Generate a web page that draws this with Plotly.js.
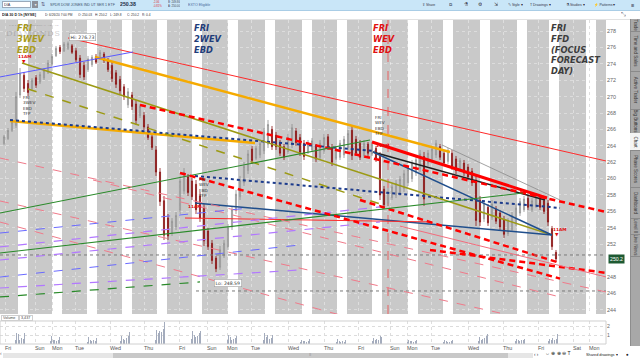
<!DOCTYPE html>
<html><head><meta charset="utf-8">
<script src="https://cdn.plot.ly/plotly-3.0.1.min.js"></script>
<style>
body{margin:0;width:640px;height:360px;overflow:hidden;font-family:'Liberation Sans',Arial,sans-serif;background:#fff;position:relative}
#chart{position:absolute;left:0;top:0;width:640px;height:360px}
.bx{position:absolute;z-index:10}
.t{position:absolute;white-space:nowrap;line-height:1;color:#334;z-index:12;transform-origin:0 0;transform:scale(0.5)}
.tab{position:absolute;left:630px;width:10px;border-bottom:1px solid #8a8a8a;z-index:11;overflow:hidden}
.tab span{position:absolute;left:50%;top:50%;transform:translate(-50%,-50%) rotate(90deg) scale(0.5);font-size:9px;color:#333;white-space:nowrap}
</style></head><body>
<div id="chart"></div>

<!-- toolbar -->
<div class="bx" style="left:0;top:0;width:640px;height:10px;background:#c9e6f8;border-bottom:1px solid #a9cde6"></div>
<div class="bx" style="left:2px;top:1px;width:29px;height:7px;background:#fff;border:1px solid #9ab;box-sizing:border-box"></div>
<div class="t" style="left:4px;top:3px;font-size:7.6px">DIA</div>
<div class="bx" style="left:32px;top:1px;width:6px;height:7px;background:#8a8f99"></div>
<div class="t" style="left:33.5px;top:3px;font-size:6.5px;color:#fff">▼</div>
<div class="t" style="left:41px;top:1.5px;font-size:10px;color:#557">⇅</div>
<div class="t" style="left:50px;top:3px;font-size:7.2px;color:#3a4f6a">SPDR DOW JONES IND UT SER 1 ETF</div>
<div class="t" style="left:120px;top:2px;font-size:10.4px;font-weight:bold;color:#1d2d44">250.38</div>
<div class="t" style="left:153px;top:1.2px;font-size:5.6px;color:#d33">-2.06</div>
<div class="t" style="left:153px;top:5.2px;font-size:5.6px;color:#d33">-0.81%</div>
<div class="t" style="left:168px;top:1.2px;font-size:5.6px;color:#445">B: 249.86</div>
<div class="t" style="left:168px;top:5.2px;font-size:5.6px;color:#445">A: 250.00</div>
<div class="t" style="left:188px;top:3px;font-size:7.2px;color:#4a6a9a">EXTO Eligible</div>
<div class="t" style="left:422px;top:3px;font-size:7px;color:#334">⇪ Share</div>
<div class="t" style="left:449px;top:2px;font-size:9px;color:#334">⧉</div>
<div class="t" style="left:464px;top:2px;font-size:9px;color:#334">⚗</div>
<div class="t" style="left:478px;top:2px;font-size:9px;color:#334">⚙</div>
<div class="t" style="left:494px;top:2px;font-size:9px;color:#334">⇲</div>
<div class="t" style="left:508px;top:3px;font-size:7px;color:#334">✎ Style ▾</div>
<div class="t" style="left:530px;top:3px;font-size:7px;color:#334">T Drawings ▾</div>
<div class="t" style="left:566px;top:3px;font-size:7px;color:#334">⚗ Studies ▾</div>
<div class="t" style="left:594px;top:3px;font-size:7px;color:#334">⚡ Patterns ▾</div>
<div class="t" style="left:631px;top:1.5px;font-size:11px;color:#334">≡</div>

<!-- header row -->
<div class="bx" style="left:0;top:11px;width:630px;height:8px;background:#fff;border-bottom:1px solid #e2e2e2"></div>
<div class="t" style="left:2px;top:13px;font-size:7.4px;font-weight:bold;color:#222">DIA 30 D 1h [NYSE]</div>
<div class="t" style="left:45px;top:13px;font-size:6.4px;color:#333">D: 6/26/20 7:00 PM</div>
<div class="t" style="left:78px;top:13px;font-size:6.4px;color:#333">O: 250.03</div>
<div class="t" style="left:95px;top:13px;font-size:6.4px;color:#333">H: 250.2</div>
<div class="t" style="left:110px;top:13px;font-size:6.4px;color:#333">L: 249.8</div>
<div class="t" style="left:127px;top:13px;font-size:6.4px;color:#333">C: 250.2</div>
<div class="t" style="left:142px;top:13px;font-size:6.4px;color:#333">R: 0.4</div>
<div class="t" style="left:621px;top:11px;font-size:12px;color:#556">⤡</div>

<!-- watermark -->
<div class="t" style="left:9px;top:24px;font-size:4.6px;color:rgba(90,90,90,0.45);letter-spacing:0.3px">THE DOW JONES INDUSTRIAL AVERAGE</div>
<div class="t" style="left:6px;top:29px;font-size:16px;font-family:'DejaVu Serif',serif;color:rgba(110,110,110,0.35);letter-spacing:1.4px">DIAMONDS</div>

<!-- right tabs -->
<div class="bx" style="left:630px;top:19px;width:10px;height:327px;background:#a8a8a8;border-left:1px solid #8d8d8d"></div>
<div class="tab" style="top:19px;height:12px"><span>Trade</span></div>
<div class="tab" style="top:31px;height:40px"><span>Time and Sales</span></div>
<div class="tab" style="top:71px;height:38px"><span>Active Trader</span></div>
<div class="tab" style="top:109px;height:24px"><span>Big Buttons</span></div>
<div class="tab" style="top:133px;height:17px;background:#f4f4f4"><span>Chart</span></div>
<div class="tab" style="top:150px;height:37px"><span>Phase Scores</span></div>
<div class="tab" style="top:187px;height:31px"><span>Dashboard</span></div>
<div class="tab" style="top:218px;height:16px"><span>Level II</span></div>
<div class="tab" style="top:234px;height:22px"><span>Live News</span></div>

<!-- volume label -->
<div class="bx" style="left:1px;top:315px;width:18px;height:6px;border:1px solid #cfcfcf;background:#fff;box-sizing:border-box"></div>
<div class="bx" style="left:19px;top:315px;width:14px;height:6px;border:1px solid #cfcfcf;background:#fff;box-sizing:border-box"></div>
<div class="t" style="left:3px;top:316.3px;font-size:7.4px;color:#444">Volume</div>
<div class="t" style="left:21px;top:316.3px;font-size:7.4px;color:#444">3,437</div>

<!-- scrollbar -->
<div class="t" style="left:0px;top:351px;font-size:10px;color:#666">‹</div>
<div class="bx" style="left:3px;top:353px;width:530px;height:5px;background:#e6e6e6"></div>
<div class="bx" style="left:113px;top:353px;width:395px;height:5px;background:#c8c8c8"></div>
<div class="t" style="left:309px;top:353px;font-size:8px;color:#777">≡</div>
<div class="t" style="left:534px;top:351.5px;font-size:9px;color:#333">‹ ›</div>
<div class="t" style="left:545px;top:351px;font-size:10px;color:#222">⇔ ⊕ ⊕ ⊖ T</div>
<div class="t" style="left:586px;top:353px;font-size:7.6px;color:#222">Shared drawings ▾</div>
<div class="t" style="left:626px;top:351.5px;font-size:9px;color:#222">●</div>

<script>
// ---------- DATA ----------
const candX = [2,4,6,8,10,12,14,16,18,20,22,24,26,28,30,32,34,36,38,40,42,44,46,48,50,52,54,56,58,60,62,64,66,68,70,72,74,76,78,80,82,84,86,88,90,92,94,96,98,100,102,104,106,108,110,112,114,116,118,120,122,124,126,128,130,132,134,136,138,140,142,144,146,148,150,152,154,156,158,160,162,164,166,168,170,172,174,176,178,180,182,184,186,188,190,192,194,196,198,200,202,204,206,208,210,212,214,216,218,220,222,224,226,228,230,232,234,236,238,240,242,244,246,248,250,252,254,256,258,260,262,264,266,268,270,272,274,276,278];
const candO = [264.3,264.9,265.9,266.5,270.2,272.6,271.6,271.0,272.3,271.8,
272.3,273.0,274.0,275.0,276.0,275.6,275.9,276.2,275.6,274.7,
273.8,273.3,273.9,274.9,274.7,275.2,274.4,273.8,272.9,272.1,
271.2,269.0,270.2,269.1,267.7,267.7,266.3,265.1,263.5,260.8,
257.3,255.2,253.3,254.1,256.2,258.5,260.2,259.7,259.3,257.9,
256.4,253.6,252.1,250.3,249.2,250.6,251.7,254.1,256.1,257.8,
259.5,261.0,263.6,262.5,262.9,263.4,264.2,266.0,265.3,264.4,
263.9,263.3,264.1,265.8,265.0,264.3,263.3,263.5,263.9,262.6,
263.4,265.1,263.8,262.5,262.6,262.9,263.8,265.9,264.8,264.3,
262.8,264.2,263.0,263.7,262.7,258.7,257.0,257.7,258.0,258.3,
258.8,259.5,260.0,260.7,261.2,262.7,261.9,262.4,262.9,263.9,
263.1,262.1,263.1,262.4,261.1,261.9,261.4,260.9,259.8,257.4,
255.1,256.5,255.3,256.3,255.8,255.0,253.3,253.8,254.6,255.8,
256.2,257.6,256.2,256.7,257.6,257.3,257.0,253.9,251.0];
const candH = [265.32,266.17,267.15,270.57,273.49,273.01,272.03,272.27,272.64,273.01,
273.49,274.47,275.20,276.18,276.30,276.67,276.73,276.42,275.93,275.08,
274.23,274.96,275.08,275.20,275.69,275.45,274.71,274.23,273.25,272.52,
271.54,271.05,270.57,269.59,269.10,268.13,266.66,265.44,263.98,261.29,
257.88,255.68,255.19,255.93,260.32,261.29,260.56,260.07,259.83,258.37,
256.90,253.97,252.51,250.56,251.78,252.51,254.46,256.66,258.61,260.32,
262.03,263.49,263.98,263.98,264.71,266.17,267.15,266.42,265.69,264.71,
264.22,265.44,266.66,266.17,265.44,264.71,264.71,264.95,264.22,264.71,
265.44,265.44,264.22,263.98,264.71,265.20,265.93,266.42,265.20,264.71,
264.71,264.47,264.47,263.98,263.25,259.10,258.85,259.34,259.83,260.32,
261.05,261.54,262.27,262.76,263.49,263.25,263.49,263.98,264.71,264.22,
263.49,263.73,263.49,262.76,262.51,262.27,261.78,261.29,260.32,257.88,
257.39,256.90,257.39,256.66,256.17,255.44,255.19,255.93,256.90,257.63,
257.88,257.88,257.63,258.12,257.88,257.63,257.39,254.22,251.29];
const candL = [264.10,264.71,265.69,266.17,269.83,270.57,270.08,270.81,271.05,271.54,
272.03,272.76,273.74,274.84,275.20,275.45,275.69,275.20,274.23,272.27,
272.03,273.01,273.62,273.98,274.47,274.10,273.01,271.79,271.05,270.32,
269.59,268.61,268.37,266.54,267.39,265.93,264.71,263.49,260.32,256.66,
252.51,252.51,253.00,253.73,255.68,258.12,257.88,257.39,255.68,254.71,
251.78,251.29,249.58,248.59,248.85,250.32,251.29,253.73,255.68,257.39,
259.10,260.56,261.78,262.27,262.51,263.00,263.73,263.49,263.49,262.76,
262.27,263.00,263.73,263.98,262.76,262.27,263.00,263.25,262.03,262.27,
263.00,263.49,261.54,262.27,262.27,262.51,263.49,262.27,262.76,262.27,
262.51,262.76,262.76,262.03,257.39,256.42,256.66,257.39,257.63,257.88,
258.37,259.10,259.59,260.32,260.81,256.66,261.54,262.03,262.51,262.27,
261.54,261.78,261.05,260.56,260.81,260.32,259.83,259.10,254.22,254.22,
254.71,254.22,254.95,254.46,253.73,252.76,253.00,253.49,254.22,255.44,
255.93,256.17,255.93,256.42,256.17,255.68,254.22,251.29,249.83];
const candC = [265.1,265.9,266.9,270.0,272.8,271.0,270.5,272.0,271.4,272.7,
273.2,274.1,274.9,275.9,275.5,276.4,276.5,275.4,274.5,272.7,
272.4,274.6,274.8,274.2,275.4,274.4,273.3,272.2,271.5,270.7,
270.0,270.6,268.8,267.1,268.8,266.3,265.0,263.8,260.8,257.2,
253.1,253.0,254.8,255.5,259.7,260.8,258.3,257.8,256.2,255.2,
252.4,251.7,250.0,249.0,251.3,252.1,254.0,256.2,258.1,259.8,
261.5,263.0,262.2,263.7,264.3,265.7,266.6,263.9,263.9,263.1,
262.6,265.0,266.2,264.4,263.2,262.7,264.4,264.6,262.4,264.3,
265.0,263.8,262.0,263.7,264.3,264.8,265.5,262.8,263.1,262.6,
264.3,263.1,264.2,262.4,258.0,256.8,258.4,259.0,259.4,259.9,
260.6,261.1,261.8,262.3,263.0,257.5,263.1,263.6,264.3,262.6,
261.9,263.4,261.5,261.0,262.2,260.7,260.2,259.5,254.9,254.7,
256.9,254.6,256.9,254.8,254.1,253.2,254.8,255.5,256.4,257.2,
257.5,256.5,257.3,257.8,256.5,256.0,254.7,251.7,250.2];

// regular-session (white) bands: start hour index of each session
const sessionStart = [9,26,43.5,61,78.5,96,114,132.5,151,168.5,186,204,221.5,240,258.5,274.5,293];
const sessionLen = 5;

// volume (millions) per session, hourly
const volStart = [7.5,25,43.5,60,77.5,95.5,113.5,131.5,150,168,186,203.5,221.5,239,257.5,274];
const volBySession = [
 [0.4,1.2,1.1,0.5,0.7,0.6,1.2],
 [0.3,0.9,0.5,0.4,0.3,0.5,0.8],
 [0.2,0.8,0.4,0.3,0.4,0.3,0.7],
 [0.3,0.9,0.6,0.5,0.7,0.9,1.3],
 [0.5,1.6,1.2,1.5,1.3,1.7,2.45],
 [0.6,1.5,1.0,0.8,0.9,1.2,1.4],
 [0.4,1.0,0.8,0.5,0.6,0.7,0.9],
 [0.5,1.2,0.8,1.0,0.6,0.7,1.0],
 [0.2,0.5,0.3,0.3,0.2,0.3,0.6],
 [0.2,0.6,0.3,0.2,0.3,0.2,0.4],
 [0.3,0.7,0.5,0.6,0.4,0.9,0.8],
 [0.2,0.5,0.3,0.3,0.2,0.3,0.4],
 [0.2,0.45,0.3,0.25,0.2,0.3,0.4],
 [0.3,0.8,0.5,0.6,0.7,0.9,1.1],
 [0.3,0.6,0.4,0.3,0.4,0.5,0.6],
 [0.3,0.6,0.4,0.7,0.5,0.6,1.1]
];

// day tick labels
const dayTickX = [2.5,17.5,26,37.5,55,72,89.5,103.5,113.5,125.5,144,162,179,195,203.5,215.5,234,251.5,269,286.5,294.5];
const dayTickText = ['Fri','Sun','Mon','Tue','Wed','Thu','Fri','Sun','Mon','Tue','Wed','Thu','Fri','Sun','Mon','Tue','Wed','Thu','Fri','Sat','Mon'];
const priceTicks = [244,246,248,252,254,256,258,260,262,264,266,268,270,272,274,276,278];

// hand-drawn trend lines: start/end (hour index, price) and kind
const lineX0 = [34,47.5,5,5,97.5,11,14,186,186.5,186.5,97.5,92.5,180,70,0,0,0,221,0,0,98,0,0,46.5,0,0,0,0,0,0,90,215,200];
const lineX1 = [303,225,127.5,187.5,280,276,190,273.5,272.5,276,276,216,280,303,185,261.5,66.5,280,100,303,303,250,170,280,303,190,190,150,125,150,280,303,303];
const lineV0 = [277.16,274.84,267.03,267.16,260.32,274.11,270.93,264.47,263.25,263.25,257.02,255.19,257.39,268.98,255.80,250.92,272.40,264.10,245.56,250.68,246.29,257.27,254.70,259.83,262.51,251.66,250.07,246.65,253.36,247.99,260.69,251.30,254.20];
const lineV1 = [262.15,263.25,264.35,263.37,256.42,253.12,256.91,257.63,257.39,253.12,253.12,254.71,249.70,255.93,264.71,258.24,275.45,257.39,247.39,250.68,246.29,243.60,243.36,245.56,246.17,256.54,254.71,248.85,256.42,251.90,247.80,248.50,248.00];
const lineKind = ['red','orange','orange','navydot','navydot','olive','olivedash','redthick','black','navy','navy','red','reddash','reddash','green','green','blue','gray','greendash','graydot','graydot','pinkdash','pinkdash','pinkdash','pinkdash','purpledash','purpledash','purpledash','bluedash','bluedash','reddash','reddash','pink'];

// ---------- STYLES ----------
const lineStyles = {
  red:{color:'#ff2a2a',width:1},
  pink:{color:'#f26d7d',width:1},
  orange:{color:'#f5aa00',width:2.5},
  navydot:{color:'#1b3a8c',width:2,dash:'dot'},
  olive:{color:'#9c9a14',width:1.5},
  olivedash:{color:'#9c9a14',width:1.5,dash:'dash'},
  redthick:{color:'#ff0000',width:3},
  black:{color:'#1e1e1e',width:1.5},
  navy:{color:'#1f4e8c',width:1.5},
  reddash:{color:'#ff0000',width:2.5,dash:'6px,4px'},
  green:{color:'#2a8a2a',width:1.2},
  blue:{color:'#5a5aff',width:1},
  gray:{color:'#8a8a8a',width:0.8},
  greendash:{color:'#2a8a2a',width:1.2,dash:'dash'},
  graydot:{color:'#7a7a7a',width:1,dash:'dot'},
  pinkdash:{color:'#f07a8a',width:1,dash:'dash'},
  purpledash:{color:'#b278ff',width:1.2,dash:'dash'},
  bluedash:{color:'#6a6aff',width:1,dash:'dash'}
};

const traces = [];
for (let i=0;i<lineX0.length;i++){
  traces.push({type:'scatter',mode:'lines',x:[lineX0[i],lineX1[i]],y:[lineV0[i],lineV1[i]],
    xaxis:'x',yaxis:'y',line:lineStyles[lineKind[i]],hoverinfo:'skip'});
}
traces.push({type:'candlestick',x:candX,open:candO,high:candH,low:candL,close:candC,xaxis:'x',yaxis:'y',
  whiskerwidth:0,
  increasing:{line:{color:'#8d8d8d',width:0.8},fillcolor:'#ececec'},
  decreasing:{line:{color:'#8c1414',width:0.8},fillcolor:'#8c1414'},hoverinfo:'skip'});

const volX=[], volY=[];
volBySession.forEach((arr,s)=>arr.forEach((v,j)=>{volX.push(volStart[s]+j*0.8);volY.push(v);}));
traces.push({type:'bar',x:volX,y:volY,xaxis:'x',yaxis:'y2',width:0.5,marker:{color:'#a4acbd'},hoverinfo:'skip'});

const shapes = [
  {type:'rect',xref:'paper',yref:'y domain',x0:0,x1:1,y0:0,y1:1,fillcolor:'#c9c9c9',line:{width:0},layer:'below'}
];
sessionStart.forEach(s=>shapes.push({type:'rect',xref:'x',yref:'y domain',x0:s,x1:s+sessionLen,y0:0,y1:1,fillcolor:'#ffffff',line:{width:0},layer:'below'}));
shapes.push({type:'line',xref:'x',yref:'y domain',x0:194,x1:194,y0:0,y1:1,line:{color:'#e86060',width:1,dash:'dash'},layer:'below'});
shapes.push({type:'rect',xref:'paper',yref:'y2 domain',x0:0,x1:1,y0:0,y1:1,line:{color:'#d0d0d0',width:1},layer:'above'});

function lab(x,y,text,size,color,extra){
  return Object.assign({xref:'x',yref:'y',x:x,y:y,text:text,showarrow:false,xanchor:'left',yanchor:'top',
    font:{size:size,color:color,family:'DejaVu Sans, Verdana, sans-serif'},align:'left'},extra||{});
}
const annotations = [
  lab(7.5,279.2,'<i><b>FRI<br>3WEV<br>EBD</b></i>',8.3,'#a99b1e'),
  lab(96,279.2,'<i><b>FRI<br>2WEV<br>EBD</b></i>',8.3,'#1f3d7a'),
  lab(185.5,279.2,'<i><b>FRI<br>WEV<br>EBD</b></i>',8.3,'#e01010'),
  lab(274.5,279.2,'<i><b>FRI<br>FFD<br>(FOCUS<br>FORECAST<br>DAY)</b></i>',8.3,'#3c3c3c'),
  lab(8,275.4,'<b>11AM</b>',4.3,'#e01010'),
  lab(10,274.8,'▼',4.5,'#e01010'),
  lab(187,264.6,'<b>11AM</b>',4.3,'#e01010'),
  lab(93,257.2,'<b>11AM</b>',4.3,'#e01010'),
  lab(275.5,254.3,'<b>11AM</b>',4.3,'#e01010'),
  lab(276.5,253.7,'▼',4.5,'#e01010'),
  lab(10,270.4,'FRI<br>3WEV<br>EBD<br>TFP',4.2,'#333'),
  lab(186,268.0,'FRI<br>WEV<br>EBD<br>TFP',4.2,'#333'),
  lab(98,260.4,'FRI<br>WEV<br>EBD<br>TFP',4.2,'#333'),
  lab(34.5,277.8,'Hi: 276.73',4.6,'#333',{bgcolor:'#ffffff',bordercolor:'#a0a0a0',borderwidth:0.6,borderpad:1}),
  lab(107,247.8,'Lo: 248.59',4.6,'#333',{bgcolor:'#ffffff',bordercolor:'#a0a0a0',borderwidth:0.6,borderpad:1}),
  {xref:'paper',yref:'y',x:1.003,y:250.2,text:'250.2',showarrow:false,xanchor:'left',yanchor:'middle',
   font:{size:5.2,color:'#ffffff',family:'Liberation Sans, Arial'},bgcolor:'#1e5a32',borderpad:1}
];

const layout = {
  width:640,height:360,margin:{l:0,r:34,t:20,b:16},
  paper_bgcolor:'rgba(0,0,0,0)',plot_bgcolor:'#ffffff',showlegend:false,
  boxgap:0.6,
  xaxis:{range:[0,303],anchor:'y2',rangeslider:{visible:false},tickmode:'array',tickvals:dayTickX,ticktext:dayTickText,
    tickangle:0,ticklabelposition:'outside right',tickfont:{size:5.4,color:'#555',family:'Liberation Sans, Arial'},
    showgrid:true,gridcolor:'#dedede',griddash:'dot',ticks:'',showline:false,zeroline:false},
  yaxis:{domain:[0.0926,1],range:[243.48,279.35],side:'right',anchor:'x',tickmode:'array',tickvals:priceTicks,
    tickfont:{size:5.4,color:'#666',family:'Liberation Sans, Arial'},showgrid:true,gridcolor:'rgba(255,255,255,0.35)',griddash:'dot',zeroline:false,ticks:''},
  yaxis2:{domain:[0,0.071],range:[0,2.56],side:'right',anchor:'x',tickmode:'array',tickvals:[1,2],ticktext:['1','2'],
    tickfont:{size:5.2,color:'#666',family:'Liberation Sans, Arial'},showgrid:true,gridcolor:'#dcdcdc',griddash:'dot',zeroline:false,ticks:''},
  bargap:0,shapes:shapes,annotations:annotations
};
Plotly.newPlot('chart',traces,layout,{staticPlot:true,displayModeBar:false});
</script>
</body></html>
